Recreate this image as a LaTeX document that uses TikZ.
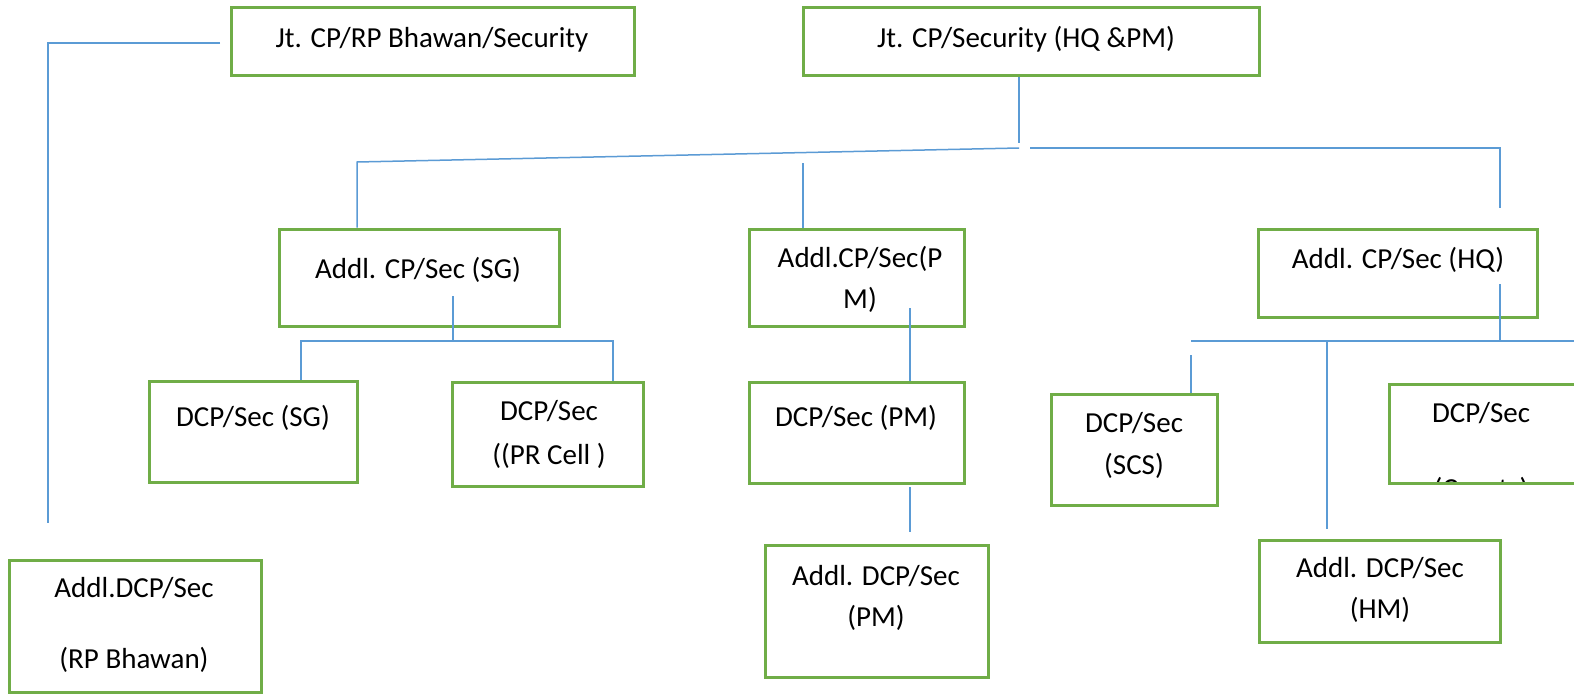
\documentclass[tikz,border=0pt]{standalone}
\usepackage{fontspec}
\setmainfont{Carlito}
\usetikzlibrary{fit}
\definecolor{boxgreen}{HTML}{70AD47}
\definecolor{linkblue}{HTML}{5B9BD5}
\begin{document}
\begin{tikzpicture}[x=0.5pt,y=-0.5pt,
  orgbox/.style={draw=boxgreen,line width=1.5pt,inner sep=0pt},
  lbl/.style={font=\fontsize{14.5}{20.5}\selectfont,align=center,inner sep=0pt,text=black},
  link/.style={draw=linkblue,line width=0.75pt}]
\useasboundingbox[fill=white] (0,0) rectangle (1574,696);

% boxes
\node[orgbox,fit={(231,7)(634,75)}] (A) {};
\node[orgbox,fit={(9,560)(261,692)}] (B) {};
\node[orgbox,fit={(803,7)(1259,75)}] (C) {};
\node[orgbox,fit={(279,229)(559,326)}] (D) {};
\node[orgbox,fit={(749,229)(964,326)}] (E) {};
\node[orgbox,fit={(1258,229)(1537,317)}] (F) {};
\node[orgbox,fit={(149,381)(357,482)}] (G) {};
\node[orgbox,fit={(452,382)(643,486)}] (H) {};
\node[orgbox,fit={(749,382)(964,483)}] (I) {};
\node[orgbox,fit={(765,545)(988,677)}] (J) {};
\node[orgbox,fit={(1051,394)(1217,505)}] (K) {};
\node[orgbox,fit={(1259,540)(1500,642)}] (L) {};
\node[orgbox,fit={(1389,384)(1600,483)}] (M) {};

% texts
\node[lbl] (tA) at (432,40) {Jt. CP/RP Bhawan/Security};
\node[lbl] (tC) at (1026,39) {Jt. CP/Security (HQ \&PM)};
\node[lbl] (tD) at (418,270) {Addl. CP/Sec (SG)};
\node[lbl] (tE) at (860,279.5) {Addl.CP/Sec(P\\M)};
\node[lbl] (tF) at (1398,260) {Addl. CP/Sec (HQ)};
\node[lbl] (tG) at (253,418) {DCP/Sec (SG)};
\node[lbl,font=\fontsize{14.5}{22}\selectfont] (tH) at (549,434) {DCP/Sec\\((PR Cell )};
\node[lbl] (tI) at (856,418) {DCP/Sec (PM)};
\node[lbl] (tJ) at (876,597.5) {Addl. DCP/Sec\\(PM)};
\node[lbl,font=\fontsize{14.5}{35.5}\selectfont] (tB) at (134,624.5) {Addl.DCP/Sec\\(RP Bhawan)};
\node[lbl,font=\fontsize{14.5}{21}\selectfont] (tK) at (1134,445) {DCP/Sec\\(SCS)};
\node[lbl] (tL) at (1380,589.5) {Addl. DCP/Sec\\(HM)};
\node[lbl] (tM) at (1481,413) {DCP/Sec};
\begin{scope}
  \clip (1390,385) rectangle (1574,481);
  \node[lbl,anchor=base] (tM2) at (1481,498) {(Courts)};
\end{scope}

% connectors
\coordinate (a1) at (220,43);
\coordinate (a2) at (48,43);
\coordinate (a3) at (48,523);
\draw[link] (a1) -- (a2) -- (a3);

\coordinate (c1) at (1019,143);
\draw[link] (1019,0 |- C.south) -- (c1);
\coordinate (s1) at (1019,148);
\coordinate (s2) at (357,162);
\draw[link] (s1) -- (s2) -- (357,0 |- D.north);
\coordinate (r1) at (1030,148);
\coordinate (r2) at (1500,148);
\coordinate (r3) at (1500,208);
\draw[link] (r1) -- (r2) -- (r3);
\coordinate (e0) at (803,163);
\draw[link] (e0) -- (803,0 |- E.north);

\coordinate (d1) at (453,296);
\coordinate (d2) at (453,341);
\draw[link] (d1) -- (d2);
\coordinate (d3) at (301,341);
\coordinate (d4) at (613,341);
\draw[link] (d3 |- G.north) -- (d3) -- (d4) -- (d4 |- H.north);

\coordinate (e1) at (910,308);
\draw[link] (e1) -- (e1 |- I.north);
\coordinate (e2) at (910,487);
\coordinate (e3) at (910,532);
\draw[link] (e2) -- (e3);

\coordinate (f1) at (1500,284);
\coordinate (f2) at (1500,341);
\draw[link] (f1) -- (f2);
\coordinate (f3) at (1191,341);
\coordinate (f4) at (1580,341);
\draw[link] (f3) -- (f4);
\coordinate (f5) at (1191,355);
\draw[link] (f5) -- (f5 |- K.north);
\coordinate (f6) at (1327,341);
\coordinate (f7) at (1327,529);
\draw[link] (f6) -- (f7);
\end{tikzpicture}
\end{document}
